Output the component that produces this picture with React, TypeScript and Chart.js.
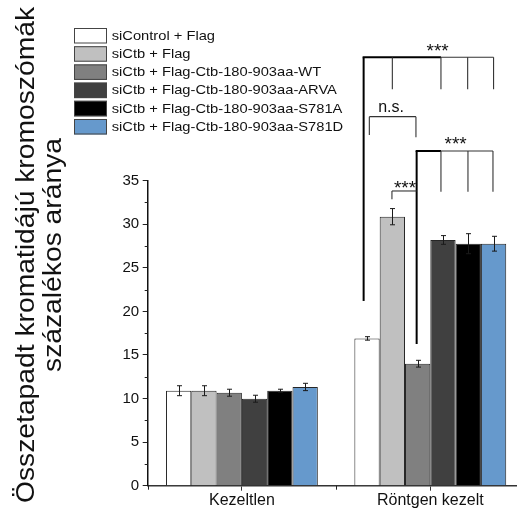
import React, { useEffect, useRef } from "react";
import { Chart, registerables } from "chart.js";

Chart.register(...registerables);

const FONT = "'Liberation Sans', Arial, Helvetica, sans-serif";

const categories = ["Kezeltlen", "Röntgen kezelt"];
const seriesLabels = [
  "siControl + Flag",
  "siCtb + Flag",
  "siCtb + Flag-Ctb-180-903aa-WT",
  "siCtb + Flag-Ctb-180-903aa-ARVA",
  "siCtb + Flag-Ctb-180-903aa-S781A",
  "siCtb + Flag-Ctb-180-903aa-S781D",
];
const seriesColors = ["#FFFFFF", "#C0C0C0", "#808080", "#404040", "#000000", "#6699CC"];

// values per series: [Kezeltlen, Röntgen kezelt]
const siControlFlag = [10.9, 16.9];
const siCtbFlag = [10.9, 30.87];
const wt = [10.67, 14.0];
const arva = [9.98, 28.2];
const s781a = [10.9, 27.77];
const s781d = [11.33, 27.77];
const seriesValues = [siControlFlag, siCtbFlag, wt, arva, s781a, s781d];

// error (± SEM) per series
const errSiControlFlag = [0.57, 0.2];
const errSiCtbFlag = [0.57, 0.93];
const errWt = [0.4, 0.39];
const errArva = [0.4, 0.5];
const errS781a = [0.17, 1.15];
const errS781d = [0.42, 0.85];
const seriesErrors = [errSiControlFlag, errSiCtbFlag, errWt, errArva, errS781a, errS781d];

const yTicks = [0, 5, 10, 15, 20, 25, 30, 35];
const yMinorTicks = [2.5, 7.5, 12.5, 17.5, 22.5, 27.5, 32.5];

const yTitleLines = ["Összetapadt kromatidájú kromoszómák", "százalékos aránya"];

// significance brackets on the "Röntgen kezelt" group (bar indices = series indices)
const brackets = [
  {
    text: "***", size: 19, y: 49.16, labelY: 49.2, labelPos: 2.79, thickUntil: 2,
    ends: [
      { bar: 0, bottom: 21.2, dx: -3.4, thick: true },
      { bar: 1, bottom: 45.5, dx: 0 },
      { bar: 3, bottom: 45.5, dx: -2 },
      { bar: 4, bottom: 45.5, dx: -0.6 },
      { bar: 5, bottom: 45.5, dx: 0 },
    ],
  },
  {
    text: "n.s.", size: 16, y: 42.35, labelY: 42.86, labelPos: 0.95, thickUntil: 0,
    ends: [
      { bar: 0, bottom: 40.25, dx: 2.3 },
      { bar: 2, bottom: 40.0, dx: -1.7 },
    ],
  },
  {
    text: "***", size: 19, y: 38.41, labelY: 38.56, labelPos: 3.5, thickUntil: 1,
    ends: [
      { bar: 2, bottom: 16.26, dx: -1, thick: true },
      { bar: 3, bottom: 33.74, dx: -2 },
      { bar: 4, bottom: 33.74, dx: -0.3 },
      { bar: 5, bottom: 33.74, dx: -0.6 },
    ],
  },
  {
    text: "***", size: 19, y: 33.82, labelY: 33.5, labelPos: 1.5, thickUntil: 0,
    ends: [
      { bar: 1, bottom: 32.87, dx: -0.4 },
      { bar: 2, bottom: 33.82, dx: -1 },
    ],
  },
];

function barX(chart: any, series: number, cat: number) {
  const el = chart.getDatasetMeta(series).data[cat];
  return el ? el.x : 0;
}

const errorBarPlugin = {
  id: "errorBars",
  afterDatasetsDraw(chart: any) {
    const ctx = chart.ctx;
    const ys = chart.scales.y;
    ctx.save();
    ctx.strokeStyle = "#1a1a1a";
    ctx.lineWidth = 1;
    seriesValues.forEach((vals, si) => {
      const meta = chart.getDatasetMeta(si);
      vals.forEach((v, ci) => {
        const el = meta.data[ci];
        const e = seriesErrors[si][ci];
        const x = Math.round(el.x) + 0.5;
        const t = ys.getPixelForValue(v + e);
        const b = ys.getPixelForValue(v - e);
        ctx.beginPath();
        ctx.moveTo(x, t);
        ctx.lineTo(x, b);
        ctx.moveTo(x - 2.5, t);
        ctx.lineTo(x + 2.5, t);
        ctx.moveTo(x - 2.5, b);
        ctx.lineTo(x + 2.5, b);
        ctx.stroke();
      });
    });
    ctx.restore();
  },
};

const decorPlugin = {
  id: "decor",
  afterDraw(chart: any) {
    const ctx = chart.ctx;
    const ys = chart.scales.y;
    const area = chart.chartArea;
    ctx.save();

    // minor y ticks
    ctx.strokeStyle = "#222";
    ctx.lineWidth = 1;
    yMinorTicks.forEach((v) => {
      const py = Math.round(ys.getPixelForValue(v)) + 0.5;
      ctx.beginPath();
      ctx.moveTo(area.left - 3, py);
      ctx.lineTo(area.left, py);
      ctx.stroke();
    });

    // x boundary ticks
    const bounds = [area.left, (area.left + area.right) / 2, area.right];
    bounds.forEach((bx) => {
      const px = Math.round(bx) + 0.5;
      ctx.beginPath();
      ctx.moveTo(px, area.bottom);
      ctx.lineTo(px, area.bottom + 4);
      ctx.stroke();
    });

    // significance brackets
    const cat = 1;
    brackets.forEach((br) => {
      const py = ys.getPixelForValue(br.y);
      const xsEnds = br.ends.map((en) => barX(chart, en.bar, cat) + en.dx);
      const thickEnd = xsEnds[br.thickUntil];
      if (br.thickUntil > 0) {
        ctx.strokeStyle = "#000";
        ctx.lineWidth = 2;
        ctx.beginPath();
        ctx.moveTo(xsEnds[0] - 1, py);
        ctx.lineTo(thickEnd, py);
        ctx.stroke();
      }
      ctx.strokeStyle = "#333";
      ctx.lineWidth = 1.1;
      ctx.beginPath();
      ctx.moveTo(br.thickUntil > 0 ? thickEnd : xsEnds[0], py);
      ctx.lineTo(xsEnds[xsEnds.length - 1], py);
      ctx.stroke();
      br.ends.forEach((en: any, i) => {
        ctx.strokeStyle = en.thick ? "#000" : "#333";
        ctx.lineWidth = en.thick ? 2 : 1.1;
        ctx.beginPath();
        ctx.moveTo(xsEnds[i], py);
        ctx.lineTo(xsEnds[i], ys.getPixelForValue(en.bottom));
        ctx.stroke();
      });
      const lp = br.labelPos;
      const i0 = Math.floor(lp);
      const f = lp - i0;
      const x0 = barX(chart, i0, cat);
      const x1 = barX(chart, Math.min(i0 + 1, 5), cat);
      const lx = x0 + (x1 - x0) * f;
      ctx.fillStyle = "#111";
      ctx.font = `${br.size}px ${FONT}`;
      ctx.textAlign = "center";
      ctx.textBaseline = "alphabetic";
      ctx.fillText(br.text, lx, ys.getPixelForValue(br.labelY));
    });

    // legend
    const legX = 74;
    const legTop = 28;
    const pitch = 18.2;
    const boxW = 33;
    const boxH = 15.5;
    seriesLabels.forEach((lab, i) => {
      const top = legTop + i * pitch;
      ctx.fillStyle = seriesColors[i];
      ctx.fillRect(legX, top, boxW, boxH);
      ctx.strokeStyle = "#444";
      ctx.lineWidth = 1;
      ctx.strokeRect(legX + 0.5, top + 0.5, boxW - 1, boxH - 1);
      ctx.save();
      ctx.translate(legX + 37.7, top + boxH / 2 + 0.5);
      ctx.scale(1.13, 1);
      ctx.fillStyle = "#111";
      ctx.font = `13px ${FONT}`;
      ctx.textAlign = "left";
      ctx.textBaseline = "middle";
      ctx.fillText(lab, 0, 0);
      ctx.restore();
    });

    // y axis title (two rotated lines)
    ctx.fillStyle = "#111";
    ctx.font = `25px ${FONT}`;
    const w0 = ctx.measureText(yTitleLines[0]).width;
    const stretch = 496 / w0;
    const baselines = [34, 61];
    yTitleLines.forEach((line, i) => {
      ctx.save();
      ctx.translate(baselines[i], 255);
      ctx.rotate(-Math.PI / 2);
      ctx.scale(stretch, 1);
      ctx.textAlign = "center";
      ctx.textBaseline = "alphabetic";
      ctx.fillText(line, 0, 0);
      ctx.restore();
    });

    ctx.restore();
  },
};

export default function App() {
  const ref = useRef<HTMLCanvasElement | null>(null);
  useEffect(() => {
    if (!ref.current) return;
    Chart.defaults.font.family = FONT;
    const chart = new Chart(ref.current, {
      type: "bar",
      data: {
        labels: categories,
        datasets: seriesLabels.map((lab, i) => ({
          label: lab,
          data: seriesValues[i],
          backgroundColor: seriesColors[i],
          borderColor: "#262626",
          borderWidth: 1,
          categoryPercentage: 0.806,
          barPercentage: 1.0,
        })),
      },
      options: {
        animation: false,
        responsive: false,
        devicePixelRatio: 1,
        layout: { padding: { left: 0, top: 180.7, right: 5.5, bottom: 0 } },
        plugins: {
          legend: { display: false },
          tooltip: { enabled: false },
          title: { display: false },
        },
        scales: {
          x: {
            type: "category",
            offset: true,
            grid: { display: true, drawOnChartArea: false, offset: false, tickLength: 5, color: "#333" },
            border: { display: true, color: "#333", width: 1.5 },
            ticks: { font: { size: 16 }, color: "#111", padding: 0 },
            afterFit: (s: any) => { s.height = 27.3; },
          },
          y: {
            min: 0,
            max: 35,
            afterBuildTicks: (s: any) => { s.ticks = yTicks.map((v) => ({ value: v })); },
            grid: { display: true, drawOnChartArea: false, tickLength: 5, color: "#222" },
            border: { display: true, color: "#111", width: 1.5 },
            ticks: { font: { size: 15 }, color: "#111", padding: 3.5 },
            afterFit: (s: any) => { s.width = 147.7; },
          },
        },
      },
      plugins: [errorBarPlugin, decorPlugin],
    });
    return () => chart.destroy();
  }, []);
  return (
    <div style={{ position: "absolute", left: 0, top: 0, width: 517, height: 513, overflow: "hidden", background: "#fff" }}>
      <canvas ref={ref} width={530} height={513} style={{ display: "block" }} />
    </div>
  );
}
